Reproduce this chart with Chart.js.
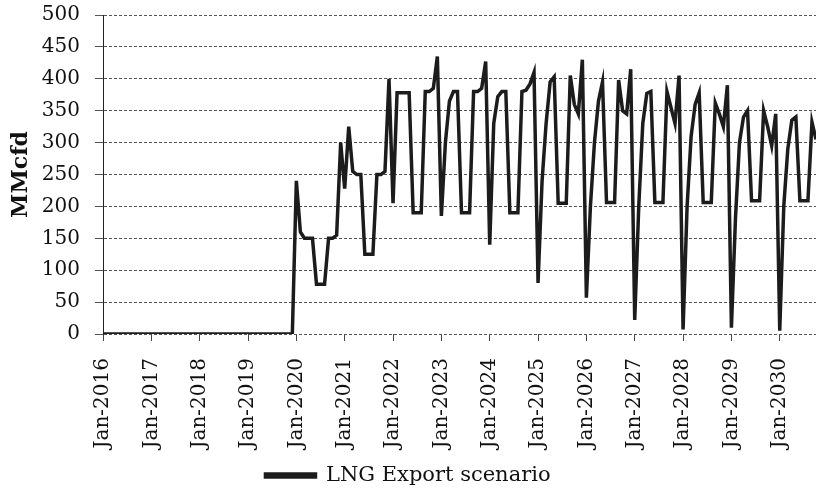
<!DOCTYPE html>
<html>
<head>
<meta charset="utf-8">
<script src="https://cdn.jsdelivr.net/npm/chart.js@4.4.1/dist/chart.umd.min.js"></script>
<style>
    html, body { margin: 0; padding: 0; background: #fff; }
    canvas { display: block; }
</style>
</head>
<body>
<canvas id="myChart" width="816" height="489"></canvas>
<script>
// Data

const months = ["Jan", "Feb", "Mar", "Apr", "May", "Jun", "Jul", "Aug", "Sep", "Oct", "Nov", "Dec"];
const years = [2016, 2017, 2018, 2019, 2020, 2021, 2022, 2023, 2024, 2025, 2026, 2027, 2028, 2029, 2030];

// MMcfd, one row per year (2030 ends in October)
const exports2016 = [0, 0, 0, 0, 0, 0, 0, 0, 0, 0, 0, 0];
const exports2017 = [0, 0, 0, 0, 0, 0, 0, 0, 0, 0, 0, 0];
const exports2018 = [0, 0, 0, 0, 0, 0, 0, 0, 0, 0, 0, 0];
const exports2019 = [0, 0, 0, 0, 0, 0, 0, 0, 0, 0, 0, 0];
const exports2020 = [240, 160, 150, 150, 150, 78, 78, 78, 150, 150, 155, 300];
const exports2021 = [228, 325, 255, 250, 250, 125, 125, 125, 250, 250, 255, 400];
const exports2022 = [205, 378, 378, 378, 378, 190, 190, 190, 380, 380, 385, 435];
const exports2023 = [185, 300, 365, 380, 380, 190, 190, 190, 380, 380, 385, 427];
const exports2024 = [140, 330, 372, 380, 380, 190, 190, 190, 380, 382, 392, 410];
const exports2025 = [80, 240, 330, 395, 403, 205, 205, 205, 405, 360, 345, 430];
const exports2026 = [57, 200, 300, 365, 395, 206, 206, 206, 398, 350, 345, 415];
const exports2027 = [22, 200, 330, 377, 380, 206, 206, 206, 380, 355, 330, 405];
const exports2028 = [7, 200, 310, 360, 378, 206, 206, 206, 362, 345, 325, 390];
const exports2029 = [10, 180, 300, 340, 350, 209, 209, 209, 350, 325, 295, 345];
const exports2030 = [5, 200, 290, 335, 340, 209, 209, 209, 332, 305];

const yearRows = [
    exports2016, exports2017, exports2018, exports2019, exports2020,
    exports2021, exports2022, exports2023, exports2024, exports2025,
    exports2026, exports2027, exports2028, exports2029, exports2030
];

let labels = [],
    values = [];

yearRows.forEach((row, y) => {
    row.forEach((v, m) => {
        labels.push(months[m] + "-" + years[y]);
        values.push(v);
    });
});

// Setup

const serif = "'DejaVu Serif', 'Liberation Serif', serif";

const data = {
    labels: labels,
    datasets: [
        {
            label: "LNG Export scenario",
            data: values,
            borderColor: "#1c1c1c",
            backgroundColor: "#1c1c1c",
            borderWidth: 3.5,
            pointRadius: 0,
            tension: 0
        }
    ]
};

// Config

const config = {
    type: "line",
    data,
    options: {
        responsive: false,
        animation: false,
        layout: {
            padding: { top: 15, right: 0, bottom: -7, left: 0 }
        },
        plugins: {
            tooltip: { enabled: false },
            legend: {
                position: "bottom",
                labels: {
                    color: "#111",
                    font: { family: serif, size: 21 },
                    boxWidth: 50,
                    boxHeight: 3,
                    padding: 4
                }
            }
        },
        scales: {
            x: {
                offset: false,
                afterFit: (axis) => {
                    axis.height = 127;
                    axis.paddingLeft = 0;
                    axis.paddingRight = 0;
                },
                grid: {
                    drawOnChartArea: false,
                    tickLength: 7,
                    color: (ctx) => (ctx.index % 12 === 0 ? "#444" : "rgba(0,0,0,0)")
                },
                border: { display: false },
                ticks: {
                    autoSkip: false,
                    minRotation: 90,
                    maxRotation: 90,
                    padding: 17,
                    color: "#111",
                    font: { family: serif, size: 20 },
                    callback: function (value) {
                        const label = this.getLabelForValue(value);
                        return label.startsWith("Jan") ? label : "";
                    }
                }
            },
            y: {
                min: 0,
                max: 500,
                afterFit: (axis) => {
                    axis.width = 103;
                    axis.paddingTop = 0;
                    axis.paddingBottom = 0;
                },
                grid: {
                    color: "#555",
                    tickLength: 8
                },
                // dash applies to the grid lines; the axis line itself stays solid
                border: { display: true, color: "#222", width: 1, dash: [3, 2] },
                ticks: {
                    stepSize: 50,
                    padding: 15,
                    color: "#111",
                    font: { family: serif, size: 20 }
                },
                title: {
                    display: true,
                    text: "MMcfd",
                    color: "#111",
                    font: { family: serif, size: 22, weight: "bold" },
                    padding: { top: 8, bottom: 0 }
                }
            }
        }
    }
};

// Render init block

const myChart = new Chart(document.getElementById("myChart"), config);
</script>
</body>
</html>
